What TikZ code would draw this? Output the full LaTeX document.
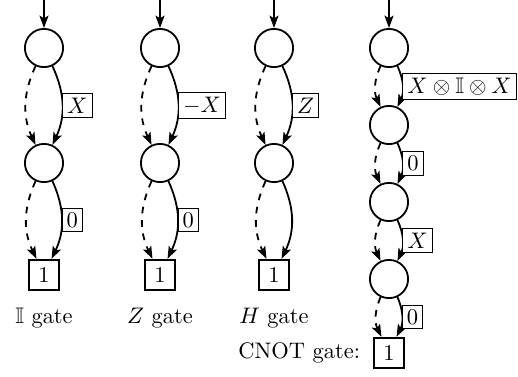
\documentclass[tikz,border=0pt]{standalone}
\usepackage{amssymb}
\usetikzlibrary{arrows.meta}

\begin{document}
\begin{tikzpicture}[x=0.445pt,y=0.445pt,
  vert/.style={circle,draw,thick,minimum size=17pt,inner sep=0pt},
  leaf/.style={rectangle,draw,thick,minimum size=13.6pt,inner sep=0pt},
  lbl/.style={rectangle,draw,thin,fill=white,inner sep=2pt,anchor=west},
  tip/.style={-{Stealth[length=5.5pt,width=4pt,inset=1.2pt]}},
  hi/.style={thick,tip,bend left=25},
  lo/.style={thick,dashed,tip,bend right=25},
  into/.style={thick,tip}]
%\draw[gray!35] (0,0) grid (518,-376);
\useasboundingbox (0,0) rectangle (518,-376);

% identity
\coordinate (itop) at (44,0);
\node[vert] (i1) at (44,-48) {};
\node[vert] (i2) at (44,-163) {};
\node[leaf] (ileaf) at (44,-275) {1};
\draw[into] (itop) -- (i1);
\draw[lo] (i1) to (i2);
\draw[hi] (i1) to node[lbl] {$X$} (i2);
\draw[lo] (i2) to (ileaf);
\draw[hi] (i2) to node[lbl] {$0$} (ileaf);
\node (iname) at (44,-318) {$\mathbb{I}$ gate};

% Z
\coordinate (ztop) at (160,0);
\node[vert] (z1) at (160,-48) {};
\node[vert] (z2) at (160,-163) {};
\node[leaf] (zleaf) at (160,-275) {1};
\draw[into] (ztop) -- (z1);
\draw[lo] (z1) to (z2);
\draw[hi] (z1) to node[lbl] {$-X$} (z2);
\draw[lo] (z2) to (zleaf);
\draw[hi] (z2) to node[lbl] {$0$} (zleaf);
\node (zname) at (160,-318) {$Z$ gate};

% H
\coordinate (htop) at (274,0);
\node[vert] (h1) at (274,-48) {};
\node[vert] (h2) at (274,-163) {};
\node[leaf] (hleaf) at (274,-275) {1};
\draw[into] (htop) -- (h1);
\draw[lo] (h1) to (h2);
\draw[hi] (h1) to node[lbl] {$Z$} (h2);
\draw[lo] (h2) to (hleaf);
\draw[hi] (h2) to (hleaf);
\node (hname) at (274,-318) {$H$ gate};

% CNOT
\coordinate (ctop) at (389,0);
\node[vert] (c1) at (389,-48) {};
\node[vert] (c2) at (389,-125) {};
\node[vert] (c3) at (389,-202) {};
\node[vert] (c4) at (389,-279) {};
\node[leaf] (cleaf) at (389,-353) {1};
\draw[into] (ctop) -- (c1);
\draw[lo] (c1) to (c2);
\draw[hi] (c1) to node[lbl] {$X\otimes\mathbb{I}\otimes X$} (c2);
\draw[lo] (c2) to (c3);
\draw[hi] (c2) to node[lbl] {$0$} (c3);
\draw[lo] (c3) to (c4);
\draw[hi] (c3) to node[lbl] {$X$} (c4);
\draw[lo] (c4) to (cleaf);
\draw[hi] (c4) to node[lbl] {$0$} (cleaf);
\node[anchor=east] (cname) at (368,-353) {CNOT gate:};

\end{tikzpicture}
\end{document}
